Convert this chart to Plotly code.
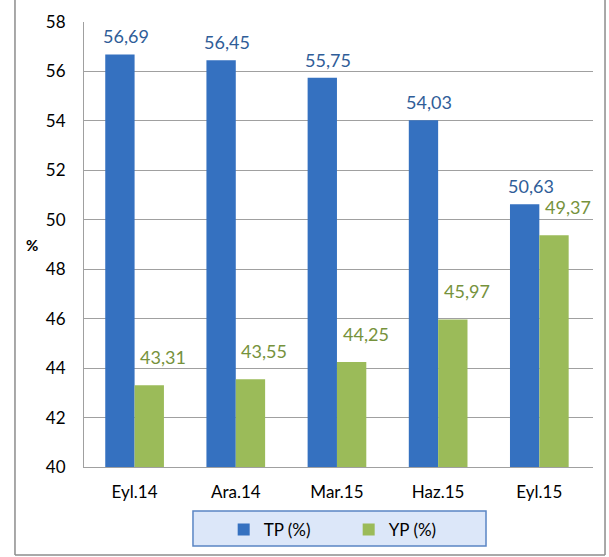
import plotly.graph_objects as go

categories = ["Eyl.14", "Ara.14", "Mar.15", "Haz.15", "Eyl.15"]
tp_values = [56.69, 56.45, 55.75, 54.03, 50.63]
yp_values = [43.31, 43.55, 44.25, 45.97, 49.37]
tp_labels = ["56,69", "56,45", "55,75", "54,03", "50,63"]
yp_labels = ["43,31", "43,55", "44,25", "45,97", "49,37"]

FONT = "Lato, 'Open Sans', sans-serif"
TP_COLOR = "#3571c0"
YP_COLOR = "#9bbb59"

fig = go.Figure()
fig.add_trace(go.Bar(x=categories, y=tp_values, name="TP (%)",
                     marker=dict(color=TP_COLOR, line=dict(width=0))))
fig.add_trace(go.Bar(x=categories, y=yp_values, name="YP (%)",
                     marker=dict(color=YP_COLOR, line=dict(width=0))))

bar_w = (1 - 0.42) / 2
for i, (v, t) in enumerate(zip(tp_values, tp_labels)):
    fig.add_annotation(x=i - bar_w / 2, y=v, text=t, showarrow=False,
                       xshift=6, yshift=18, yanchor="middle",
                       font=dict(size=18, color="#2f5d98", family=FONT))
for i, (v, t) in enumerate(zip(yp_values, yp_labels)):
    fig.add_annotation(x=i + bar_w / 2, y=v, text=t, showarrow=False,
                       xshift=14, yshift=28, yanchor="middle",
                       font=dict(size=18, color="#76923c", family=FONT))

fig.update_layout(
    width=609, height=557,
    margin=dict(l=84, r=16, t=22, b=90, autoexpand=False),
    paper_bgcolor="white", plot_bgcolor="white",
    barmode="group", bargap=0.42, bargroupgap=0,
    font=dict(family=FONT, size=17, color="black"),
    showlegend=True,
    legend=dict(
        orientation="h", x=0.52, xanchor="center",
        yref="container", y=(557 - 512) / 557, yanchor="top",
        bgcolor="rgba(0,0,0,0)", borderwidth=0,
        font=dict(size=17, family=FONT), itemwidth=30,
        entrywidth=80, entrywidthmode="pixels",
    ),
    xaxis=dict(showline=True, linecolor="#a0a0a0", linewidth=1, automargin=False,
               ticks="", tickfont=dict(size=17), ticklabelstandoff=10),
    yaxis=dict(range=[40, 58], dtick=2, showgrid=True, gridcolor="#a0a0a0",
               gridwidth=1, showline=True, linecolor="#a0a0a0", zeroline=False,
               automargin=False, ticks="", tickfont=dict(size=17),
               ticklabelstandoff=14),
)
fig.add_annotation(text="<b>%</b>", xref="paper", yref="paper", x=-0.118, y=0.5,
                   showarrow=False, font=dict(size=15, color="black", family=FONT))

# legend box
fig.add_shape(type="rect", xref="paper", yref="paper", x0=0.2141, x1=0.7898,
              y0=-0.1775, y1=-0.0989, fillcolor="#dce7f9",
              line=dict(color="#5a85c4", width=1.5), layer="above")

# outer frame lines
for x0, y0, x1, y1 in [(-0.1356, -0.198, -0.1356, 1.06), (-0.1356, -0.198, 1.0236, -0.198), (1.0236, -0.198, 1.0236, 1.06)]:
    fig.add_shape(type="line", xref="paper", yref="paper", x0=x0, y0=y0, x1=x1, y1=y1,
                  line=dict(color="#8c8c8c", width=1.5))

fig.write_html("out.html", post_script="document.body.style.margin='0';",
               config={"displayModeBar": False})
